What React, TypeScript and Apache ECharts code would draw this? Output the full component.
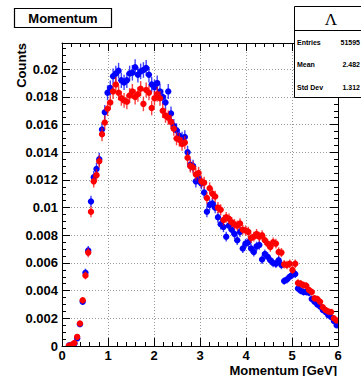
import React, { useEffect, useRef } from "react";
import * as echarts from "echarts";

// Histogram binning (GeV)
const binLow = 0;
const binWidth = 0.06;
const xTicks = [0, 1, 2, 3, 4, 5, 6];
const yTicks = [0, 0.002, 0.004, 0.006, 0.008, 0.01, 0.012, 0.014, 0.016, 0.018, 0.02];

// Normalised counts per bin (100 bins, 0–6 GeV); null = empty bin
const blueCounts: (number | null)[] = [
  null, null, 0.00003, 0.00008, 0.00018, 0.00055, 0.00158, 0.0032, 0.0053, 0.0069,
  0.01045, 0.0122, 0.0128, 0.0135, 0.01565, 0.0169, 0.0183, 0.01865, 0.0195, 0.0197,
  0.0199, 0.0192, 0.01905, 0.0192, 0.0197, 0.01975, 0.02015, 0.0196, 0.01985, 0.01995,
  0.0201, 0.0196, 0.0189, 0.0187, 0.019, 0.0184, 0.018, 0.0176, 0.0184, 0.0168,
  0.0159, 0.0156, 0.0152, 0.015, 0.0151, 0.014, 0.0131, 0.013, 0.0119, 0.0121,
  0.01175, 0.0111, 0.0097, 0.0102, 0.0103, 0.01, 0.0093, 0.0088, 0.0086, 0.0079,
  0.0087, 0.0084, 0.0081, 0.00765, 0.00825, 0.00705, 0.0074, 0.0075, 0.00705, 0.0068,
  0.0072, 0.0073, 0.00625, 0.00665, 0.00645, 0.0062, 0.006, 0.00595, 0.0062, 0.00585,
  0.0047, 0.0048, 0.005, 0.00515, 0.0052, 0.00415, 0.004, 0.0039, 0.0039, 0.00385,
  0.0034, 0.0032, 0.003, 0.00285, 0.0026, 0.00245, 0.00222, 0.0021, 0.0018, 0.0015,
];
const redCounts: (number | null)[] = [
  null, null, 0.00002, 0.00009, 0.00022, 0.00066, 0.00162, 0.0033, 0.0051, 0.00675,
  0.0097, 0.0119, 0.01235, 0.01335, 0.0153, 0.01615, 0.01715, 0.0176, 0.0184, 0.0189,
  0.0183, 0.0179, 0.01775, 0.01765, 0.0181, 0.0184, 0.018, 0.0182, 0.0186, 0.0175,
  0.0185, 0.0183, 0.0172, 0.0179, 0.0182, 0.0179, 0.017, 0.01665, 0.0165, 0.0162,
  0.0157, 0.015, 0.0149, 0.0146, 0.0147, 0.0136, 0.013, 0.0129, 0.0124, 0.0125,
  0.0119, 0.0118, 0.0107, 0.0114, 0.011, 0.0108, 0.01, 0.00985, 0.0091, 0.0093,
  0.0092, 0.00895, 0.0088, 0.0087, 0.00885, 0.0084, 0.00835, 0.00825, 0.0078, 0.0079,
  0.0081, 0.0079, 0.008, 0.00765, 0.0074, 0.00715, 0.0075, 0.0074, 0.0068, 0.00675,
  0.0059, 0.00585, 0.00595, 0.0055, 0.00595, 0.00455, 0.0045, 0.0044, 0.00435, 0.00405,
  0.0039, 0.00345, 0.0034, 0.0032, 0.0028, 0.0026, 0.0025, 0.00245, 0.002, 0.00185,
];

// statistical error scale (err ≈ k·sqrt(count))
const errScale = 0.004;

const statLabels = ["Entries", "Mean", "Std Dev"];
const statValues = ["51595", "2.482", "1.312"];

const FONT = "Liberation Sans";

function toPoints(counts: (number | null)[]) {
  const pts: number[][] = [];
  counts.forEach((c, i) => {
    if (c === null) return;
    pts.push([binLow + binWidth * (i + 0.5), c, errScale * Math.sqrt(c)]);
  });
  return pts;
}

function makeRender(color: string) {
  return (params: any, api: any) => {
    const x = api.value(0);
    const y = api.value(1);
    const e = api.value(2);
    const c = api.coord([x, y]);
    const l = api.coord([x - binWidth / 2, y]);
    const r = api.coord([x + binWidth / 2, y]);
    const t = api.coord([x, y + e]);
    const b = api.coord([x, y - e]);
    return {
      type: "group",
      children: [
        { type: "line", shape: { x1: l[0], y1: c[1], x2: r[0], y2: c[1] }, style: { stroke: color, lineWidth: 1, opacity: 0.8 } },
        { type: "line", shape: { x1: c[0], y1: t[1], x2: c[0], y2: b[1] }, style: { stroke: color, lineWidth: 1.4, opacity: 0.75 } },
        { type: "circle", shape: { cx: c[0], cy: c[1], r: 3.2 }, style: { fill: color } },
      ],
    };
  };
}

export default function App() {
  const ref = useRef<HTMLDivElement>(null);
  useEffect(() => {
    document.body.style.margin = "0";
    const chart = echarts.init(ref.current!, undefined, { renderer: "svg" });
    const yMax = 0.0219;
    const tickLbl = { fontFamily: FONT, fontWeight: "bold" as const, fontSize: 13, color: "#000" };
    const axisLine = { show: true, onZero: false, lineStyle: { color: "#000", width: 1 } };
    chart.setOption({
      animation: false,
      backgroundColor: "#fff",
      grid: { left: 62, right: 23, top: 43, bottom: 30, containLabel: false },
      xAxis: [
        {
          type: "value", min: xTicks[0], max: xTicks[xTicks.length - 1], interval: 1,
          axisLine, axisTick: { inside: true, length: 8, lineStyle: { color: "#000" } },
          minorTick: { show: true, splitNumber: 5, length: 4, lineStyle: { color: "#000" } },
          splitLine: { show: true, lineStyle: { color: "#999", type: [1, 2], width: 1 } },
          axisLabel: { ...tickLbl, margin: 3 },
        },
        {
          type: "value", position: "top", min: xTicks[0], max: xTicks[xTicks.length - 1], interval: 1,
          axisLine, axisTick: { inside: true, length: 8, lineStyle: { color: "#000" } },
          minorTick: { show: true, splitNumber: 5, length: 4, lineStyle: { color: "#000" } },
          splitLine: { show: false }, axisLabel: { show: false },
        },
      ],
      yAxis: [
        {
          type: "value", min: yTicks[0], max: yMax, interval: 0.002,
          axisLine, axisTick: { inside: true, length: 8, lineStyle: { color: "#000" } },
          minorTick: { show: true, splitNumber: 4, length: 4, lineStyle: { color: "#000" } },
          splitLine: { show: true, lineStyle: { color: "#999", type: [1, 2], width: 1 } },
          axisLabel: {
            ...tickLbl, margin: 4, showMaxLabel: false,
            formatter: (v: number) => (yTicks.some((t) => Math.abs(t - v) < 1e-9) ? String(+v.toFixed(4)) : ""),
          },
        },
        {
          type: "value", position: "right", min: yTicks[0], max: yMax, interval: 0.002,
          axisLine, axisTick: { inside: true, length: 8, lineStyle: { color: "#000" } },
          minorTick: { show: true, splitNumber: 4, length: 4, lineStyle: { color: "#000" } },
          splitLine: { show: false }, axisLabel: { show: false },
        },
      ],
      series: [
        { type: "custom", name: "blue", xAxisIndex: 0, yAxisIndex: 0, clip: true, renderItem: makeRender("#0000ff"), data: toPoints(blueCounts), z: 3 },
        { type: "custom", name: "red", xAxisIndex: 0, yAxisIndex: 0, clip: true, renderItem: makeRender("#ff0000"), data: toPoints(redCounts), z: 4 },
      ],
      graphic: [
        { type: "text", x: 21, y: 43, rotation: Math.PI / 2, style: { text: "Counts", font: `bold 13px "${FONT}"`, fill: "#000", align: "right", verticalAlign: "middle" } },
        { type: "text", x: 337, y: 370, style: { text: "Momentum [GeV]", font: `bold 13px "${FONT}"`, fill: "#000", align: "right", verticalAlign: "middle" } },
        { type: "rect", shape: { x: 14.5, y: 8.5, width: 97, height: 19 }, style: { fill: "#fff", stroke: "#000", lineWidth: 1.2 }, z: 10 },
        { type: "text", x: 63, y: 18, style: { text: "Momentum", font: `bold 13px "${FONT}"`, fill: "#000", align: "center", verticalAlign: "middle" }, z: 11 },
        { type: "rect", shape: { x: 294.5, y: 6.5, width: 80, height: 91 }, style: { fill: "#fff", stroke: "#000", lineWidth: 1 }, z: 10 },
        { type: "line", shape: { x1: 294.5, y1: 30.5, x2: 361, y2: 30.5 }, style: { stroke: "#000", lineWidth: 1 }, z: 11 },
        { type: "text", x: 331, y: 19, style: { text: "Λ", font: `17px "Liberation Serif"`, fill: "#000", align: "center", verticalAlign: "middle" }, z: 11 },
        ...statLabels.map((s, i) => ({
          type: "text", x: 297, y: 42 + i * 22.5, z: 11,
          style: { text: s, font: `bold 7px "${FONT}"`, fill: "#000", align: "left", verticalAlign: "middle" },
        })),
        ...statValues.map((s, i) => ({
          type: "text", x: 360, y: 42 + i * 22.5, z: 11,
          style: { text: s, font: `bold 7px "${FONT}"`, fill: "#000", align: "right", verticalAlign: "middle" },
        })),
      ],
    });
    return () => chart.dispose();
  }, []);
  return <div ref={ref} style={{ width: 361, height: 376 }} />;
}
